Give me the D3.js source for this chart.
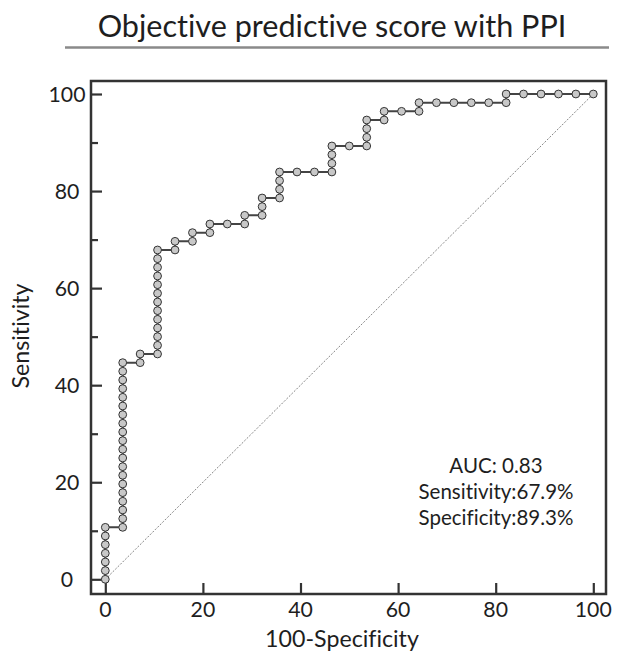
<!DOCTYPE html>
<html>
<head>
<meta charset="utf-8">
<script src="https://cdn.jsdelivr.net/npm/d3@7"></script>
<style>
  html, body { margin: 0; padding: 0; background: #fff; }
  svg { display: block; }
  text { font-family: Lato, "Open Sans", sans-serif; fill: #1e1e1e; font-feature-settings: "liga" 0, "clig" 0; font-variant-ligatures: none; }
</style>
</head>
<body>
<script>
// ---- data ----
const title = "Objective predictive score with PPI";
const xLabel = "100-Specificity";
const yLabel = "Sensitivity";
const xTicks = [0, 20, 40, 60, 80, 100];
const yTicks = [0, 20, 40, 60, 80, 100];
const yMinorTicks = [10, 30, 50, 70, 90];
const annotations = ["AUC: 0.83", "Sensitivity:67.9%", "Specificity:89.3%"];

// ROC operating points: 100-specificity (%) and sensitivity (%)
const rocX = [
  0, 0, 0, 0, 0, 0, 0,
  3.57, 3.57, 3.57, 3.57, 3.57, 3.57, 3.57, 3.57, 3.57, 3.57,
  3.57, 3.57, 3.57, 3.57, 3.57, 3.57, 3.57, 3.57, 3.57, 3.57,
  7.14, 7.14,
  10.71, 10.71, 10.71, 10.71, 10.71, 10.71, 10.71,
  10.71, 10.71, 10.71, 10.71, 10.71, 10.71,
  14.29, 14.29,
  17.86, 17.86,
  21.43, 21.43,
  25.0,
  28.57, 28.57,
  32.14, 32.14, 32.14,
  35.71, 35.71, 35.71, 35.71,
  39.29,
  42.86,
  46.43, 46.43, 46.43, 46.43,
  50.0,
  53.57, 53.57, 53.57, 53.57,
  57.14, 57.14,
  60.71,
  64.29, 64.29,
  67.86, 71.43, 75.0, 78.57,
  82.14, 82.14,
  85.71, 89.29, 92.86, 96.43, 100
];
const rocY = [
  0, 1.79, 3.57, 5.36, 7.14, 8.93, 10.71,
  10.71, 12.5, 14.29, 16.07, 17.86, 19.64, 21.43, 23.21, 25.0, 26.79,
  28.57, 30.36, 32.14, 33.93, 35.71, 37.5, 39.29, 41.07, 42.86, 44.64,
  44.64, 46.43,
  46.43, 48.21, 50.0, 51.79, 53.57, 55.36, 57.14,
  58.93, 60.71, 62.5, 64.29, 66.07, 67.86,
  67.86, 69.64,
  69.64, 71.43,
  71.43, 73.21,
  73.21,
  73.21, 75.0,
  75.0, 76.79, 78.57,
  78.57, 80.36, 82.14, 83.93,
  83.93,
  83.93,
  83.93, 85.71, 87.5, 89.29,
  89.29,
  89.29, 91.07, 92.86, 94.64,
  94.64, 96.43,
  96.43,
  96.43, 98.21,
  98.21, 98.21, 98.21, 98.21,
  98.21, 100,
  100, 100, 100, 100, 100
];

// ---- layout ----
const W = 629, H = 656;
const frame = { left: 91, right: 606, top: 81, bottom: 594 };

const svg = d3.select("body").append("svg").attr("width", W).attr("height", H);

const x = d3.scaleLinear().domain([0, 100]).range([105.3, 593.3]);
const y = d3.scaleLinear().domain([0, 100]).range([579.3, 94]);

// scale a text's font so its rendered width matches the width measured on the reference
function fitWidth(sel, base, target) {
  sel.style("font-size", base + "px");
  const w = sel.node().getComputedTextLength();
  if (w > 0) sel.style("font-size", (base * target / w).toFixed(2) + "px");
  return sel;
}

// title + rule
const t = svg.append("text").attr("x", 332).attr("y", 37).attr("text-anchor", "middle").text(title);
fitWidth(t, 28, 469);
svg.append("line").attr("x1", 65).attr("x2", 609).attr("y1", 47.5).attr("y2", 47.5)
  .attr("stroke", "#8a8a8a").attr("stroke-width", 2.5);

// diagonal reference
svg.append("line")
  .attr("x1", x(0)).attr("y1", y(0)).attr("x2", x(100)).attr("y2", y(100))
  .attr("stroke", "#666").attr("stroke-width", 0.8).attr("stroke-dasharray", "2,1.5");

// axes (inward ticks)
const gx = svg.append("g").attr("transform", `translate(0,${frame.bottom})`)
  .call(d3.axisTop(x).tickValues(xTicks).tickSize(11).tickFormat(""));
const gy = svg.append("g").attr("transform", `translate(${frame.left},0)`)
  .call(d3.axisRight(y).tickValues(yTicks).tickSize(11).tickFormat(""));
const gym = svg.append("g").attr("transform", `translate(${frame.left},0)`)
  .call(d3.axisRight(y).tickValues(yMinorTicks).tickSize(7).tickFormat(""));
[gx, gy, gym].forEach(g => {
  g.select(".domain").remove();
  g.selectAll(".tick line").attr("stroke", "#333").attr("stroke-width", 2.2);
});

// tick labels (size from the width of "100")
const probe = svg.append("text").text("100");
fitWidth(probe, 21, 37);
const tickSize = probe.style("font-size");
probe.remove();
svg.selectAll(".xlab").data(xTicks).join("text").attr("class", "xlab")
  .attr("x", d => x(d)).attr("y", 617).attr("text-anchor", "middle")
  .style("font-size", tickSize).text(d => d);
svg.selectAll(".ylab").data(yTicks).join("text").attr("class", "ylab")
  .attr("x", 67).attr("y", d => y(d) + 8).attr("text-anchor", "middle")
  .style("font-size", tickSize).text(d => d);

// frame
svg.append("rect").attr("x", frame.left).attr("y", frame.top)
  .attr("width", frame.right - frame.left).attr("height", frame.bottom - frame.top)
  .attr("fill", "none").attr("stroke", "#333").attr("stroke-width", 2.5);

// axis titles
const yl = svg.append("text").attr("transform", "translate(29,336) rotate(-90)")
  .attr("text-anchor", "middle").text(yLabel);
fitWidth(yl, 21, 105);
svg.append("text").attr("x", 342).attr("y", 647).attr("text-anchor", "middle")
  .style("font-size", yl.style("font-size")).text(xLabel);

// ROC curve
const pts = rocX.map((d, i) => [d, rocY[i]]);
svg.append("path").datum(pts)
  .attr("d", d3.line().x(d => x(d[0])).y(d => y(d[1])))
  .attr("fill", "none").attr("stroke", "#444").attr("stroke-width", 2);
svg.selectAll(".pt").data(pts).join("circle").attr("class", "pt")
  .attr("cx", d => x(d[0])).attr("cy", d => y(d[1])).attr("r", 3.9)
  .attr("fill", "#c8c8c8").attr("stroke", "#333").attr("stroke-width", 1);

// annotations
const ann = svg.selectAll(".ann").data(annotations).join("text").attr("class", "ann")
  .attr("x", 496).attr("y", (d, i) => 473 + i * 26).attr("text-anchor", "middle").text(d => d);
const annProbe = svg.append("text").text(annotations[1]);
fitWidth(annProbe, 19, 155);
ann.style("font-size", annProbe.style("font-size"));
annProbe.remove();
</script>
</body>
</html>
